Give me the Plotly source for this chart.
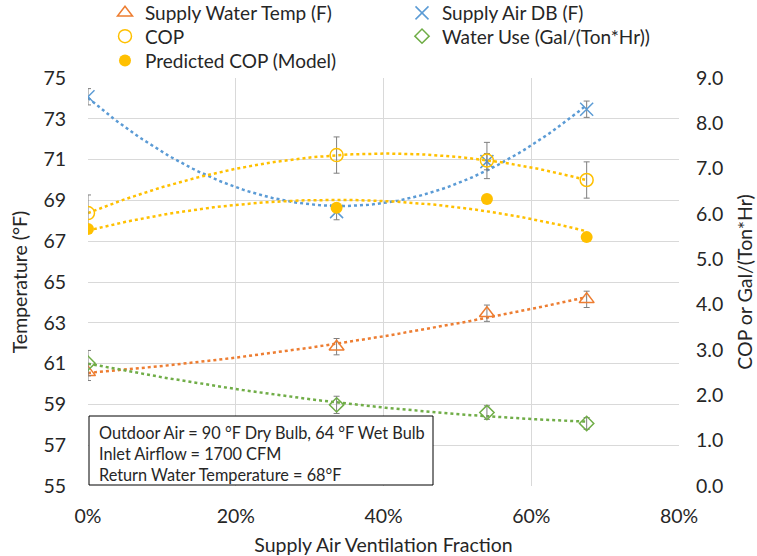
import numpy as np
import plotly.graph_objects as go

# ---- data ----
vent_fraction = [0.0, 0.3365, 0.540, 0.675]
supply_water_temp = [60.57, 61.83, 63.47, 64.15]
supply_water_err = [0.4, 0.4, 0.4, 0.4]
supply_air_db = [74.08, 68.45, 70.90, 73.47]
supply_air_err = [0.4, 0.4, 0.4, 0.4]
cop = [6.02, 7.30, 7.18, 6.75]
cop_err = [0.4, 0.4, 0.4, 0.4]
predicted_cop = [5.67, 6.14, 6.33, 5.49]
water_use = [2.71, 1.79, 1.62, 1.38]
water_use_err = [0.28, 0.19, 0.15, 0.13]

x_tick_vals = [0.0, 0.2, 0.4, 0.6, 0.8]
x_tick_text = ["0%", "20%", "40%", "60%", "80%"]
left_tick_vals = [55, 57, 59, 61, 63, 65, 67, 69, 71, 73, 75]
right_tick_vals = [0, 1, 2, 3, 4, 5, 6, 7, 8, 9]

note_lines = ["Outdoor Air = 90 °F Dry Bulb, 64 °F Wet Bulb",
              "Inlet Airflow = 1700 CFM",
              "Return Water Temperature = 68°F"]

ORANGE = "#ED7D31"
BLUE = "#5B9BD5"
GOLD = "#FFC000"
GREEN = "#70AD47"
ERR = "#7F7F7F"
TXT = "#262626"
FONT = "Lato"

W, H = 757, 556
ML, MR, MT, MB = 88, 78, 78, 70
PW, PH = W - ML - MR, H - MT - MB


def px_x(px):
    return (px - ML) / PW


def px_y(py):
    return (H - MB - py) / PH


fig = go.Figure()


def trend(xs, ys):
    coef = np.polyfit(xs, ys, 2)
    xx = np.linspace(min(xs), max(xs), 120)
    return xx, np.polyval(coef, xx)


# legend rows: legend (row 1), legend2 (row 2), legend3 (row 3)
series = [
    ("Supply Water Temp (F)", supply_water_temp, supply_water_err, ORANGE, "y", "legend",
     dict(symbol="triangle-up-open", size=13, line=dict(width=1.5))),
    ("Supply Air DB (F)", supply_air_db, supply_air_err, BLUE, "y", "legend",
     dict(symbol="x-thin-open", size=13, line=dict(width=1.5, color=BLUE))),
    ("COP", cop, cop_err, GOLD, "y2", "legend2",
     dict(symbol="circle-open", size=13, line=dict(width=1.5))),
    ("Water Use (Gal/(Ton*Hr))", water_use, water_use_err, GREEN, "y2", "legend2",
     dict(symbol="diamond-open", size=11, line=dict(width=1.5))),
    ("Predicted COP (Model)", predicted_cop, None, GOLD, "y2", "legend3",
     dict(symbol="circle", size=12)),
]

# polynomial (order 2) trendlines, as in the source chart
for name, ys, err, col, ax, lg, mk in series:
    xx, yy = trend(vent_fraction, ys)
    fig.add_trace(go.Scatter(x=xx, y=yy, mode="lines", yaxis=ax, showlegend=False,
                             hoverinfo="skip",
                             line=dict(color=col, width=2.5, dash="dot")))

for name, ys, err, col, ax, lg, mk in series:
    mk = dict(mk)
    mk["color"] = col
    ey = None
    if err is not None:
        ey = dict(type="data", array=err, visible=True, color=ERR, thickness=1, width=3)
    fig.add_trace(go.Scatter(x=vent_fraction, y=ys, mode="markers", name=name, yaxis=ax,
                             legend=lg, marker=mk, error_y=ey))

legend_common = dict(x=px_x(105), xanchor="left", yanchor="top", orientation="h",
                     font=dict(size=19, color=TXT), bgcolor="rgba(0,0,0,0)",
                     itemwidth=30, entrywidth=252, entrywidthmode="pixels",
                     traceorder="normal")

fig.update_layout(
    width=W, height=H,
    margin=dict(l=ML, r=MR, t=MT, b=MB, autoexpand=False),
    paper_bgcolor="white", plot_bgcolor="white",
    font=dict(family=FONT, size=19.5, color=TXT),
    xaxis=dict(range=[0, 0.8], tickvals=x_tick_vals, ticktext=x_tick_text,
               showgrid=True, gridcolor="#D9D9D9", gridwidth=1, zeroline=False,
               showline=False, ticks="", ticklabelstandoff=16, automargin=False,
               title=dict(text="Supply Air Ventilation Fraction", standoff=21,
                          font=dict(size=19.5))),
    yaxis=dict(range=[55, 75], tickvals=left_tick_vals, showgrid=True,
               gridcolor="#D9D9D9", gridwidth=1, zeroline=False, showline=False,
               ticks="", ticklabelstandoff=21, automargin=False,
               title=dict(text="Temperature (°F)", standoff=10, font=dict(size=19.5))),
    yaxis2=dict(range=[0, 9], tickvals=right_tick_vals, tickformat=".1f",
                overlaying="y", side="right", showgrid=False, zeroline=False,
                showline=False, ticks="", ticklabelstandoff=16, automargin=False,
                title=dict(text="COP or Gal/(Ton*Hr)", standoff=16, font=dict(size=19.5))),
    legend=dict(legend_common, y=px_y(-6)),
    legend2=dict(legend_common, y=px_y(17.3)),
    legend3=dict(legend_common, y=px_y(41.7)),
    showlegend=True,
)

# info box
fig.add_shape(type="rect", xref="paper", yref="paper",
              x0=px_x(89), x1=px_x(433), y0=px_y(485), y1=px_y(416),
              line=dict(color="#000000", width=1), fillcolor="white", layer="above")
fig.add_annotation(
    xref="paper", yref="paper", x=px_x(97), y=px_y(453.5),
    xanchor="left", yanchor="middle", align="left", showarrow=False,
    text="<br>".join(note_lines), font=dict(size=16.3, color=TXT, family=FONT),
)

fig.write_html("out.html", config={"displayModeBar": False},
               post_script="document.body.style.margin='0';")
